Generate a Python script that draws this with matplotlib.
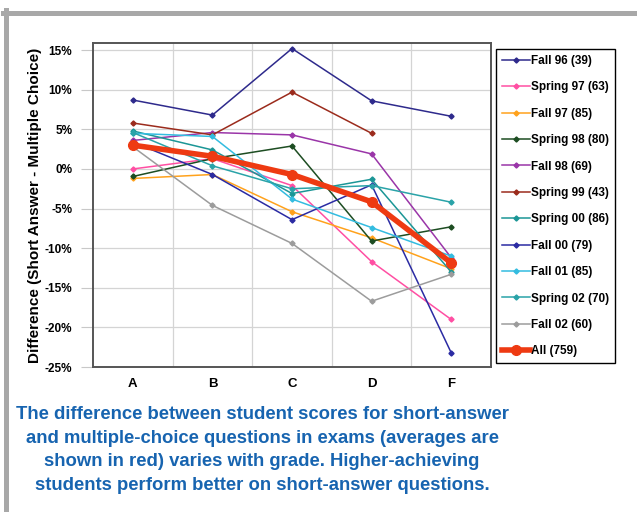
import matplotlib.pyplot as plt
from matplotlib.lines import Line2D
import numpy as np

plt.rcParams['font.family'] = ['Liberation Sans', 'DejaVu Sans']

grades = ['A', 'B', 'C', 'D', 'F']

fall96   = [8.7, 6.8, 15.2, 8.6, 6.65]
spring97 = [0.0, 1.3, -2.1, -11.7, -19.0]
fall97   = [-1.2, -0.7, -5.4, -8.7, -12.6]
spring98 = [-0.95, 1.3, 2.9, -9.1, -7.3]
fall98   = [3.6, 4.6, 4.3, 1.9, -11.2]
spring99 = [5.8, 4.3, 9.7, 4.5, np.nan]
spring00 = [4.8, 2.4, -3.1, -1.3, -13.0]
fall00   = [3.4, -0.7, -6.4, -2.0, -23.2]
fall01   = [4.5, 4.1, -3.8, -7.4, -11.0]
spring02 = [4.6, 0.4, -2.5, -2.1, -4.2]
fall02   = [2.8, -4.6, -9.4, -16.7, -13.3]
all_avg  = [3.0, 1.6, -0.7, -4.15, -11.85]

labels = ['Fall 96 (39)', 'Spring 97 (63)', 'Fall 97 (85)', 'Spring 98 (80)',
          'Fall 98 (69)', 'Spring 99 (43)', 'Spring 00 (86)', 'Fall 00 (79)',
          'Fall 01 (85)', 'Spring 02 (70)', 'Fall 02 (60)']
series = [fall96, spring97, fall97, spring98, fall98, spring99,
          spring00, fall00, fall01, spring02, fall02]
colors = ['#2e2a8c', '#ff4fa3', '#ffa21c', '#1d4d22', '#9a35a8', '#9b2b1c',
          '#1b9696', '#2b2ba3', '#33bce0', '#2aa3a8', '#9c9c9c']

fig = plt.figure(figsize=(6.37, 5.12), dpi=100)
ax = fig.add_axes([93/637, 1-367/512, 398/637, 324/512])

x = np.arange(len(grades))
for vals, lab, c in zip(series, labels, colors):
    ax.plot(x, vals, color=c, lw=1.1, marker='D', ms=2.6, label=lab)
ax.plot(x, all_avg, color='#ee3a12', lw=4, marker='o', ms=7, label='All (759)')

ax.set_xlim(-0.5, 4.5)
ax.set_ylim(-25, 15.9)
ax.set_xticks(x)
ax.set_xticklabels(grades, fontsize=9.5, fontweight='bold')
ax.set_xticks([0.5, 1.5, 2.5, 3.5], minor=True)
yt = np.arange(-25, 16, 5)
ax.set_yticks(yt)
ax.set_yticklabels(['%d%%' % v for v in yt], fontsize=8.5, fontweight='bold')
ax.tick_params(axis='x', which='both', length=0, pad=8)
ax.tick_params(axis='y', length=9, width=0.8, color='#c8c8c8', pad=6)
ax.grid(axis='y', color='#d4d4d4', lw=0.9)
ax.grid(axis='x', which='minor', color='#d4d4d4', lw=0.9)
ax.set_axisbelow(True)
for s in ax.spines.values():
    s.set_color('#555555')
    s.set_linewidth(1.4)

ax.set_ylabel('Difference (Short Answer - Multiple Choice)', fontsize=11,
              fontweight='bold')
ax.yaxis.set_label_coords(-51/398, 0.5)

leg = ax.legend(loc='upper left', bbox_to_anchor=(496/637, 1-49/512),
                bbox_transform=fig.transFigure, borderaxespad=0,
                fancybox=False, edgecolor='black', framealpha=1,
                prop={'weight': 'bold', 'size': 8.5}, handlelength=2.35,
                handletextpad=0.1, labelspacing=1.22, borderpad=0.5)
leg.get_frame().set_linewidth(1.0)

caption = ('The difference between student scores for short-answer\n'
           'and multiple-choice questions in exams (averages are\n'
           'shown in red) varies with grade. Higher-achieving\n'
           'students perform better on short-answer questions.')
fig.text(262/637, 1-450/512, caption, ha='center', va='center', fontsize=13.3,
         fontweight='bold', color='#1764b0', linespacing=1.5)

# grey page border
fig.add_artist(Line2D([3/637, 1], [1-12.5/512, 1-12.5/512], color='#a8a8a8',
                      lw=3.6, transform=fig.transFigure))
fig.add_artist(Line2D([5.5/637, 5.5/637], [0, 1-10/512], color='#a8a8a8',
                      lw=3.6, transform=fig.transFigure))

plt.savefig('out.png', dpi=100)
